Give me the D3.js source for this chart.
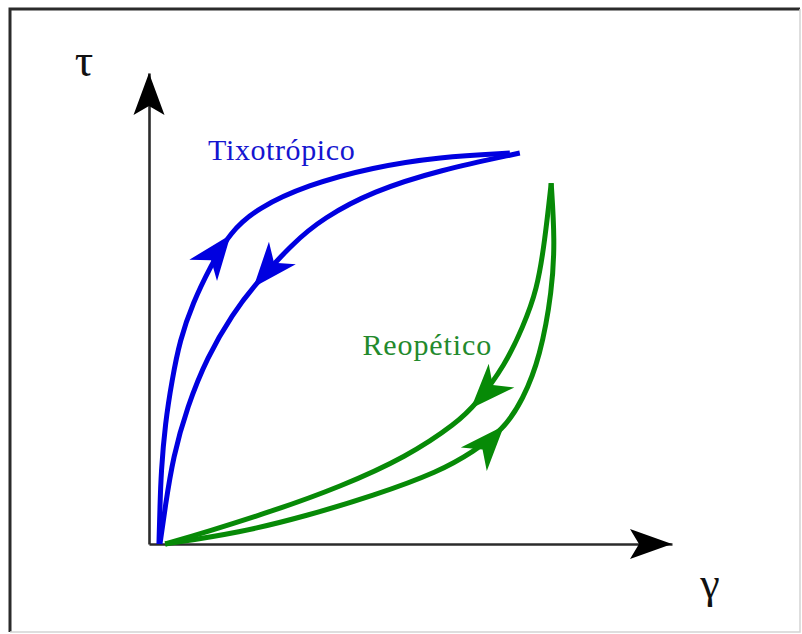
<!DOCTYPE html>
<html>
<head>
<meta charset="utf-8">
<script src="https://cdn.jsdelivr.net/npm/d3@7"></script>
<style>
  html, body { margin: 0; padding: 0; background: #fff; }
  svg { display: block; }
</style>
</head>
<body>
<script>
// Hysteresis loops of shear stress (τ) vs shear rate (γ), both axes 0–100.
// Each loop has an ascending and a descending branch: [γ, τ]
const thixoUp = [
  [1.9, 0], [2.1, 7.9], [2.3, 15.1], [3.1, 25.7], [4.4, 34.8], [5.9, 43.3],
  [8.4, 51.2], [11.7, 58.8], [15.5, 66.2], [20.7, 71.3], [30.2, 76.2],
  [42.8, 80.0], [55.6, 82.2], [69.0, 83.0]
];
const thixoDown = [
  [70.9, 83.0], [55.6, 79.4], [42.8, 74.9], [33.3, 69.2], [27.5, 63.9],
  [19.9, 54.6], [16.1, 49.0], [11.1, 39.7], [7.3, 29.1], [4.6, 18.5],
  [3.1, 7.9], [2.1, 0]
];
const rheoUp = [
  [3.1, 0], [17.4, 2.4], [30.2, 6.0], [42.8, 10.2], [55.6, 15.4], [62.0, 19.6],
  [67.7, 24.2], [71.5, 30.6], [74.8, 39.7], [77.1, 53.9], [77.6, 64.5], [76.9, 76.6]
];
const rheoDown = [
  [76.9, 76.6], [75.7, 64.5], [74.2, 53.9], [71.5, 46.1], [68.1, 38.0],
  [62.7, 29.9], [58.9, 25.7], [49.3, 18.5], [36.5, 12.1], [23.7, 7.0],
  [11.1, 2.6], [3.1, 0]
];
const seriesNames = ["Tixotrópico", "Reopético"];
const axisNames = ["γ", "τ"];
// where along each branch (fraction of its length) the direction arrow sits
const arrowAt = [0.52, 0.525, 0.59, 0.42];

const W = 802, H = 634;
const blue = "#0000e0", green = "#078a07";

const svg = d3.select("body").append("svg")
  .attr("width", W).attr("height", H);

const x = d3.scaleLinear([0, 100], [149, 672]);
const y = d3.scaleLinear([0, 100], [544, 73]);

// frame
svg.append("path").attr("d", `M10,632V9H800`)
  .attr("fill", "none").attr("stroke", "#2b2b2b").attr("stroke-width", 3);
svg.append("path").attr("d", `M800,9V632H10`)
  .attr("fill", "none").attr("stroke", "#d4d4d4").attr("stroke-width", 1.5);

// notched arrowhead with its tip at (0,0), pointing along +x
function arrowShape(L, hw, notch) {
  return `M0,0L${-L},${-hw}L${-L + notch},0L${-L},${hw}Z`;
}

// axes
const gx = svg.append("g").attr("transform", `translate(0,${y(0)})`)
  .call(d3.axisBottom(x).tickValues([]).tickSizeOuter(0));
const gy = svg.append("g").attr("transform", `translate(${x(0)},0)`)
  .call(d3.axisLeft(y).tickValues([]).tickSizeOuter(0));
[gx, gy].forEach(g => g.select(".domain")
  .attr("stroke", "#2b2b2b").attr("stroke-width", 2.6));

svg.append("path").attr("d", arrowShape(42, 15, 9))
  .attr("transform", `translate(${x(100)},${y(0)})`)
  .attr("fill", "#000");
svg.append("path").attr("d", arrowShape(42, 15.5, 9))
  .attr("transform", `translate(${x(0)},${y(100)}) rotate(-90)`)
  .attr("fill", "#000");

// loop branches
const line = d3.line().x(d => x(d[0])).y(d => y(d[1])).curve(d3.curveBasis);
const branches = [
  { data: thixoUp, color: blue },
  { data: thixoDown, color: blue },
  { data: rheoUp, color: green },
  { data: rheoDown, color: green }
];
branches.forEach((b, i) => {
  const p = svg.append("path").attr("d", line(b.data))
    .attr("fill", "none").attr("stroke", b.color)
    .attr("stroke-width", 5).attr("stroke-linecap", "butt")
    .attr("stroke-linejoin", "round");
  const node = p.node();
  const len = node.getTotalLength();
  const at = arrowAt[i] * len;
  const tip = node.getPointAtLength(at);
  const back = node.getPointAtLength(at - 2);
  const ang = Math.atan2(tip.y - back.y, tip.x - back.x) * 180 / Math.PI;
  svg.append("path").attr("d", arrowShape(45, 17.5, 13))
    .attr("transform", `translate(${tip.x},${tip.y}) rotate(${ang})`)
    .attr("fill", b.color);
});

// labels
const serif = "'Liberation Serif', 'Times New Roman', serif";
svg.append("text").text(seriesNames[0])
  .attr("x", x(11.3)).attr("y", y(81.5))
  .attr("font-family", serif).attr("font-size", 30)
  .attr("letter-spacing", 0.6).attr("fill", "#1515d0");
svg.append("text").text(seriesNames[1])
  .attr("x", x(40.8)).attr("y", y(40.2))
  .attr("font-family", serif).attr("font-size", 30)
  .attr("letter-spacing", 0.9).attr("fill", "#238a2c");

svg.append("text").text(axisNames[1])
  .attr("x", 84).attr("y", 76).attr("text-anchor", "middle")
  .attr("font-family", serif).attr("font-size", 46).attr("fill", "#111");
svg.append("text").text(axisNames[0])
  .attr("x", 710).attr("y", 598).attr("text-anchor", "middle")
  .attr("font-family", serif).attr("font-size", 44).attr("fill", "#111");
</script>
</body>
</html>
